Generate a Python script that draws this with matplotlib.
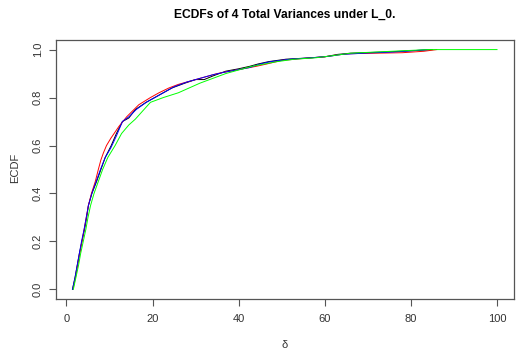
import matplotlib
matplotlib.use("Agg")
import matplotlib.pyplot as plt

# ECDF knots (x = delta, F = ECDF value)
black_x = [1.4, 2.0, 2.5, 3.0, 3.6, 4.2, 4.7, 5.1, 5.9, 7.0, 8.0, 9.0, 10.4, 11.6, 13.0, 14.5, 16.0, 18.5, 20.5, 22.5, 24.5, 27.5, 30.0, 32.0, 34.0, 35.5, 37.0, 40.0, 42.5, 44.5, 47.0, 51.0, 56.0, 60.0, 63.0, 66.0, 74.0, 80.0, 85.0]
black_y = [0.0, 0.05, 0.10, 0.15, 0.20, 0.25, 0.30, 0.35, 0.40, 0.45, 0.50, 0.55, 0.60, 0.65, 0.70, 0.715, 0.75, 0.78, 0.80, 0.82, 0.84, 0.86, 0.875, 0.875, 0.89, 0.90, 0.91, 0.92, 0.93, 0.94, 0.95, 0.96, 0.965, 0.97, 0.98, 0.985, 0.99, 0.995, 1.0]

red_x = [1.5, 2.1, 2.6, 3.1, 3.6, 4.1, 4.6, 5.1, 5.8, 6.7, 7.4, 8.0, 8.6, 9.3, 10.3, 12.2, 14.0, 16.8, 19.5, 21.5, 23.8, 26.0, 29.0, 32.0, 35.0, 38.0, 41.0, 44.0, 46.5, 50.0, 55.0, 60.0, 63.0, 66.0, 72.0, 78.0, 83.0, 86.0]
red_y = [0.0, 0.05, 0.10, 0.15, 0.20, 0.25, 0.30, 0.35, 0.40, 0.45, 0.50, 0.54, 0.57, 0.60, 0.63, 0.68, 0.72, 0.77, 0.80, 0.82, 0.84, 0.855, 0.87, 0.885, 0.90, 0.91, 0.92, 0.93, 0.94, 0.955, 0.963, 0.97, 0.978, 0.983, 0.985, 0.987, 0.993, 1.0]

blue_x = [1.4, 2.0, 2.5, 3.0, 3.5, 4.1, 4.6, 5.1, 5.9, 6.9, 7.9, 9.0, 10.3, 11.6, 13.0, 14.5, 16.2, 18.5, 20.5, 22.5, 25.0, 28.0, 31.0, 34.0, 36.5, 39.5, 42.5, 45.0, 47.5, 52.0, 57.0, 61.0, 64.0, 70.0, 76.0, 81.0, 84.0]
blue_y = [0.0, 0.05, 0.10, 0.15, 0.20, 0.25, 0.30, 0.35, 0.40, 0.45, 0.50, 0.55, 0.59, 0.64, 0.70, 0.72, 0.75, 0.78, 0.80, 0.82, 0.845, 0.865, 0.88, 0.895, 0.905, 0.915, 0.925, 0.94, 0.95, 0.96, 0.966, 0.972, 0.98, 0.986, 0.99, 0.996, 1.0]

green_x = [1.6, 2.2, 2.8, 3.3, 3.9, 4.5, 5.0, 5.6, 6.4, 7.4, 8.4, 9.6, 11.3, 12.8, 14.5, 16.0, 17.5, 19.5, 22.5, 26.0, 28.5, 31.0, 34.0, 37.0, 40.0, 43.0, 46.0, 49.0, 53.0, 58.0, 62.0, 66.0, 72.0, 78.0, 84.0, 100.0]
green_y = [0.0, 0.05, 0.10, 0.15, 0.20, 0.25, 0.30, 0.35, 0.40, 0.45, 0.50, 0.55, 0.60, 0.65, 0.686, 0.71, 0.74, 0.78, 0.80, 0.82, 0.84, 0.86, 0.88, 0.90, 0.915, 0.93, 0.94, 0.95, 0.96, 0.966, 0.975, 0.985, 0.99, 0.995, 1.0, 1.0]

series = [(black_x, black_y, "black"), (red_x, red_y, "#FF0000"),
          (blue_x, blue_y, "#0000FF"), (green_x, green_y, "#00FF00")]

title = "ECDFs of 4 Total Variances under L_0."
xlabel = "\u03b4"
ylabel = "ECDF"
xticks = [0, 20, 40, 60, 80, 100]
yticks = [0.0, 0.2, 0.4, 0.6, 0.8, 1.0]

plt.rcParams['font.family'] = ['Liberation Sans', 'DejaVu Sans']

W, H = 516, 360
fig = plt.figure(figsize=(W / 100, H / 100), dpi=100)
left, right, top, bottom = 55.5, 514, 40, 299
ax = fig.add_axes([left / W, (H - bottom) / H, (right - left) / W, (bottom - top) / H])

for xs, ys, c in series:
    ax.plot(xs, ys, color=c, lw=0.7)

ax.set_xlim(1.4 - 0.04 * 98.6, 100 + 0.04 * 98.6)
ax.set_ylim(-0.04, 1.04)
ax.set_xticks(xticks)
ax.set_xticklabels([str(t) for t in xticks])
ax.set_yticks(yticks)
ax.set_yticklabels([f"{t:.1f}" for t in yticks], rotation=90, va='center')

edge = '#555555'
for s in ax.spines.values():
    s.set_color(edge)
    s.set_linewidth(0.9)
ax.tick_params(axis='both', direction='out', length=5, width=0.8, color=edge,
               labelsize=8, labelcolor='#333333')
ax.tick_params(axis='x', pad=6)
ax.tick_params(axis='y', pad=4)

fig.text((left + right) / 2 / W, 1 - 15 / H, title, ha='center', va='center',
         fontsize=8.7, fontweight='bold', color='black')
fig.text((left + right) / 2 / W, 1 - 345 / H, xlabel, ha='center', va='center',
         fontsize=8, color='#333333')
fig.text(15 / W, 1 - 168 / H, ylabel, ha='center', va='center', rotation=90,
         fontsize=8, color='#333333')

fig.savefig("out.png", dpi=100)
